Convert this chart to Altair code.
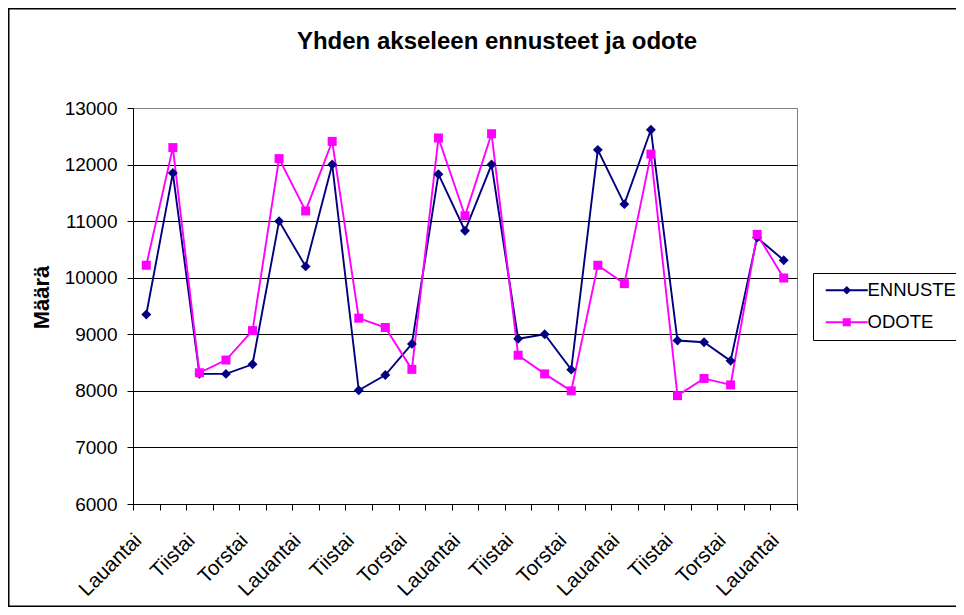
import altair as alt
import pandas as pd

FONT = "Liberation Sans"

days = [
    "Lauantai", "Maanantai", "Tiistai", "Keskiviikko", "Torstai", "Perjantai",
    "Lauantai", "Maanantai", "Tiistai", "Keskiviikko", "Torstai", "Perjantai",
    "Lauantai", "Maanantai", "Tiistai", "Keskiviikko", "Torstai", "Perjantai",
    "Lauantai", "Maanantai", "Tiistai", "Keskiviikko", "Torstai", "Perjantai",
    "Lauantai",
]
ennuste = [9350, 11850, 8300, 8300, 8470, 11000, 10200, 12000, 8010, 8280,
           8830, 11830, 10830, 12000, 8920, 9000, 8375, 12260, 11300, 12615,
           8890, 8860, 8530, 10710, 10310]
odote = [10220, 12300, 8320, 8545, 9065, 12105, 11180, 12410, 9285, 9120,
         8380, 12470, 11095, 12545, 8630, 8300, 8000, 10220, 9895, 12185,
         7915, 8220, 8105, 10765, 9995]
series_names = ["ENNUSTE", "ODOTE"]
series_colors = ["#000080", "#FF00FF"]
y_ticks = [6000, 7000, 8000, 9000, 10000, 11000, 12000, 13000]
title_text = "Yhden akseleen ennusteet ja odote"
y_title = "Määrä"

rows = []
for name, vals in zip(series_names, [ennuste, odote]):
    for i, (d, v) in enumerate(zip(days, vals)):
        rows.append({"idx": i, "day": d, "series": name, "value": v})
df = pd.DataFrame(rows)

n = len(days)
x_scale = alt.Scale(domain=[-0.5, n - 0.5], nice=False, zero=False)
y_scale = alt.Scale(domain=[y_ticks[0], y_ticks[-1]], nice=False, zero=False)
boundaries = [i - 0.5 for i in range(n + 1)]
day_js = "[" + ",".join("'" + d + "'" for d in days) + "]"
label_expr = "(datum.value + 0.5) % 2 === 0 ? " + day_js + "[datum.value + 0.5] : ''"

x_axis = alt.Axis(
    values=boundaries, labelExpr=label_expr, labelAngle=315, labelAlign="right",
    labelBaseline="middle", labelPadding=27, labelOffset=5, tickSize=6,
    tickColor="black", domainColor="black", labelOverlap=False, labelFlush=False,
    labelBound=False, grid=False, title=None, labelFontSize=20.5, labelFont=FONT,
    labelColor="black",
)
y_axis = alt.Axis(
    values=y_ticks, format="d", tickSize=6, labelPadding=10, tickColor="black",
    domainColor="black", labelFontSize=19, labelFont=FONT, labelColor="black",
    grid=True,
    gridColor={"condition": {"test": "datum.value === %d" % y_ticks[-1], "value": "#808080"}, "value": "black"},
    title=y_title, titleFontSize=22, titleFont=FONT, titleFontWeight="bold",
    titleColor="black", titleX=-92, titleY=189, titleAngle=270,
    titleAlign="center", titleBaseline="middle",
)

X = alt.X("idx:Q", scale=x_scale, axis=x_axis)
Y = alt.Y("value:Q", scale=y_scale, axis=y_axis)

data_shapes = ["M0,-1.1L1.1,0L0,1.1L-1.1,0Z", "M-1,-1H1V1H-1Z"]
legend_shapes = [
    "M-4.67,-0.2H4.67V0.2H-4.67ZM0,-0.95L0.95,0L0,0.95L-0.95,0Z",
    "M-4.67,-0.2H4.67V0.2H-4.67ZM-0.9,-0.9H0.9V0.9H-0.9Z",
]

border = alt.Chart(alt.Data(values=[{"k": 1}])).mark_rect(
    fill=None, stroke="black", strokeWidth=1.5, clip=False
).encode(
    x=alt.value(-124.25), y=alt.value(-99.25), x2=alt.value(1000), y2=alt.value(498.25)
)

lines = alt.Chart(df).mark_line(strokeWidth=1.9).encode(
    x=X, y=Y,
    color=alt.Color("series:N", scale=alt.Scale(domain=series_names, range=series_colors), legend=None),
)

points = alt.Chart(df).mark_point(filled=True, size=81, opacity=1, strokeWidth=0).encode(
    x=X, y=Y,
    fill=alt.Fill("series:N", scale=alt.Scale(domain=series_names, range=series_colors), legend=None),
    shape=alt.Shape("series:N", scale=alt.Scale(domain=series_names, range=data_shapes), legend=None),
)

leg = alt.Legend(
    title=None, orient="none", legendX=680, legendY=165, strokeColor="black",
    fillColor="white", padding=8, symbolOffset=16.5, labelOffset=11.5, rowPadding=13,
    labelFontSize=18.5, labelFont=FONT, labelColor="black", symbolSize=81,
    symbolOpacity=1, symbolStrokeWidth=0, labelLimit=0,
)
legend_layer = alt.Chart(df).mark_point(filled=True, size=81, opacity=0).encode(
    x=X, y=Y,
    fill=alt.Fill("series:N", scale=alt.Scale(domain=series_names, range=series_colors), legend=leg),
    shape=alt.Shape("series:N", scale=alt.Scale(domain=series_names, range=legend_shapes), legend=leg),
)

chart = alt.layer(border, lines, points, legend_layer).resolve_scale(
    shape="independent", fill="independent"
).properties(
    width=664, height=396,
    autosize=alt.AutoSizeParams(type="none"),
    padding={"left": 125, "top": 100, "right": 159, "bottom": 103},
    title=alt.Title(title_text, fontSize=24, font=FONT, fontWeight="bold", anchor="middle",
                    frame="group", dx=32, offset=-65, baseline="alphabetic", color="black"),
    background="white",
).configure_view(stroke="#808080", strokeWidth=1)

chart.save("out.html", embed_options={"renderer": "svg", "actions": False})
